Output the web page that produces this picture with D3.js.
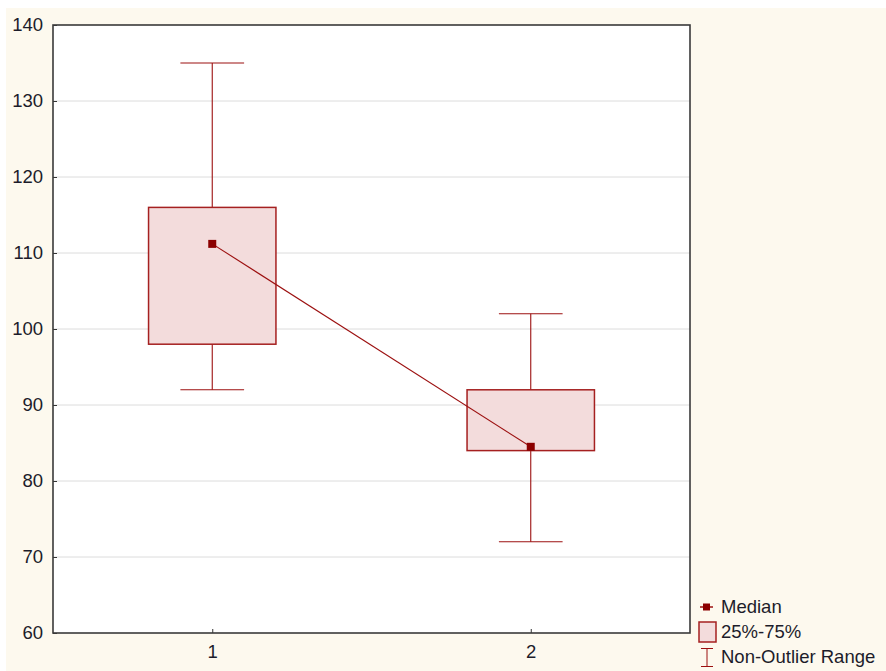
<!DOCTYPE html>
<html>
<head>
<meta charset="utf-8">
<script src="https://cdn.jsdelivr.net/npm/d3@7"></script>
<style>
body { margin: 0; background: #fff; }
text { font-family: "Liberation Sans", Arial, sans-serif; }
</style>
</head>
<body>
<script>
// data
let groups = [1, 2];
let medians = [111.2, 84.5];
let q1 = [98, 84];
let q3 = [116, 92];
let minVals = [92, 72];
let maxVals = [135, 102];
let yTicks = [60, 70, 80, 90, 100, 110, 120, 130, 140];
let legendLabels = ["Median", "25%-75%", "Non-Outlier Range"];

let width = 886, height = 671;
let plotLeft = 53, plotTop = 25, plotRight = 690, plotBottom = 633;
let dark = "#9c1010";
let fontSize = 18.5;

let svg = d3.select("body").append("svg")
    .attr("width", width)
    .attr("height", height);

svg.append("rect")
    .attr("x", 6).attr("y", 8)
    .attr("width", width - 6).attr("height", height - 8)
    .attr("fill", "#fdf9ee");

svg.append("rect")
    .attr("x", plotLeft).attr("y", plotTop)
    .attr("width", plotRight - plotLeft).attr("height", plotBottom - plotTop)
    .attr("fill", "#fff");

let x = d3.scaleLinear().domain([0.5, 2.5]).range([plotLeft, plotRight]);
let y = d3.scaleLinear().domain([60, 140]).range([plotBottom, plotTop]);

// grid
svg.selectAll(".grid")
    .data(yTicks.slice(1, -1))
    .enter().append("line")
    .attr("x1", plotLeft).attr("x2", plotRight)
    .attr("y1", d => y(d)).attr("y2", d => y(d))
    .attr("stroke", "#dcdcdc").attr("stroke-width", 1);

// axes
let yAxis = svg.append("g")
    .attr("transform", `translate(${plotLeft},0)`)
    .call(d3.axisLeft(y).tickValues(yTicks).tickSizeInner(-4).tickSizeOuter(0).tickPadding(10));
let xAxis = svg.append("g")
    .attr("transform", `translate(0,${plotBottom})`)
    .call(d3.axisBottom(x).tickValues(groups).tickSizeInner(-4).tickSizeOuter(0).tickPadding(12).tickFormat(d3.format("d")));

[yAxis, xAxis].forEach(a => {
    a.select(".domain").remove();
    a.selectAll("line").attr("stroke", "#333");
    a.selectAll("text").attr("font-size", fontSize).attr("fill", "#1c1c2a")
        .style("font-family", "'Liberation Sans', Arial, sans-serif");
});

// whiskers and boxes
let capHalf = 0.1, boxHalf = 0.2;
groups.forEach((g, i) => {
    let gg = svg.append("g");
    gg.append("line")
        .attr("x1", x(g)).attr("x2", x(g))
        .attr("y1", y(maxVals[i])).attr("y2", y(minVals[i]))
        .attr("stroke", dark).attr("stroke-width", 1.1);
    [maxVals[i], minVals[i]].forEach(v => {
        gg.append("line")
            .attr("x1", x(g - capHalf)).attr("x2", x(g + capHalf))
            .attr("y1", y(v)).attr("y2", y(v))
            .attr("stroke", dark).attr("stroke-width", 1.1);
    });
    gg.append("rect")
        .attr("x", x(g - boxHalf)).attr("width", x(g + boxHalf) - x(g - boxHalf))
        .attr("y", y(q3[i])).attr("height", y(q1[i]) - y(q3[i]))
        .attr("fill", "#f3dcdc").attr("stroke", "#a52020").attr("stroke-width", 1.5);
});

// median line and markers
svg.append("path")
    .datum(groups.map((g, i) => [g, medians[i]]))
    .attr("d", d3.line().x(d => x(d[0])).y(d => y(d[1])))
    .attr("fill", "none").attr("stroke", dark).attr("stroke-width", 1.1);

svg.selectAll(".med")
    .data(groups.map((g, i) => [g, medians[i]]))
    .enter().append("rect")
    .attr("x", d => x(d[0]) - 4).attr("y", d => y(d[1]) - 4)
    .attr("width", 8).attr("height", 8)
    .attr("fill", "#8b0000");

// frame
svg.append("rect")
    .attr("x", plotLeft).attr("y", plotTop)
    .attr("width", plotRight - plotLeft).attr("height", plotBottom - plotTop)
    .attr("fill", "none").attr("stroke", "#3a3a3a").attr("stroke-width", 1.6);

// legend
let lg = svg.append("g");
let ly = [607, 632, 657];
lg.append("line").attr("x1", 700).attr("x2", 713).attr("y1", ly[0]).attr("y2", ly[0])
    .attr("stroke", dark).attr("stroke-width", 1.5);
lg.append("rect").attr("x", 703).attr("y", ly[0] - 3.5).attr("width", 7).attr("height", 7).attr("fill", "#8b0000");
lg.append("rect").attr("x", 699).attr("y", 622).attr("width", 17).attr("height", 20)
    .attr("fill", "#f3dcdc").attr("stroke", "#a52020").attr("stroke-width", 1.5);
lg.append("line").attr("x1", 707).attr("x2", 707).attr("y1", 648).attr("y2", 667).attr("stroke", dark);
lg.append("line").attr("x1", 701).attr("x2", 713).attr("y1", 648.5).attr("y2", 648.5).attr("stroke", dark);
lg.append("line").attr("x1", 701).attr("x2", 713).attr("y1", 666.5).attr("y2", 666.5).attr("stroke", dark);

lg.selectAll("text")
    .data(legendLabels)
    .enter().append("text")
    .attr("x", 721).attr("y", (d, i) => ly[i])
    .attr("dy", "0.35em")
    .attr("font-size", fontSize).attr("fill", "#1c1c2a")
    .text(d => d);
</script>
</body>
</html>
